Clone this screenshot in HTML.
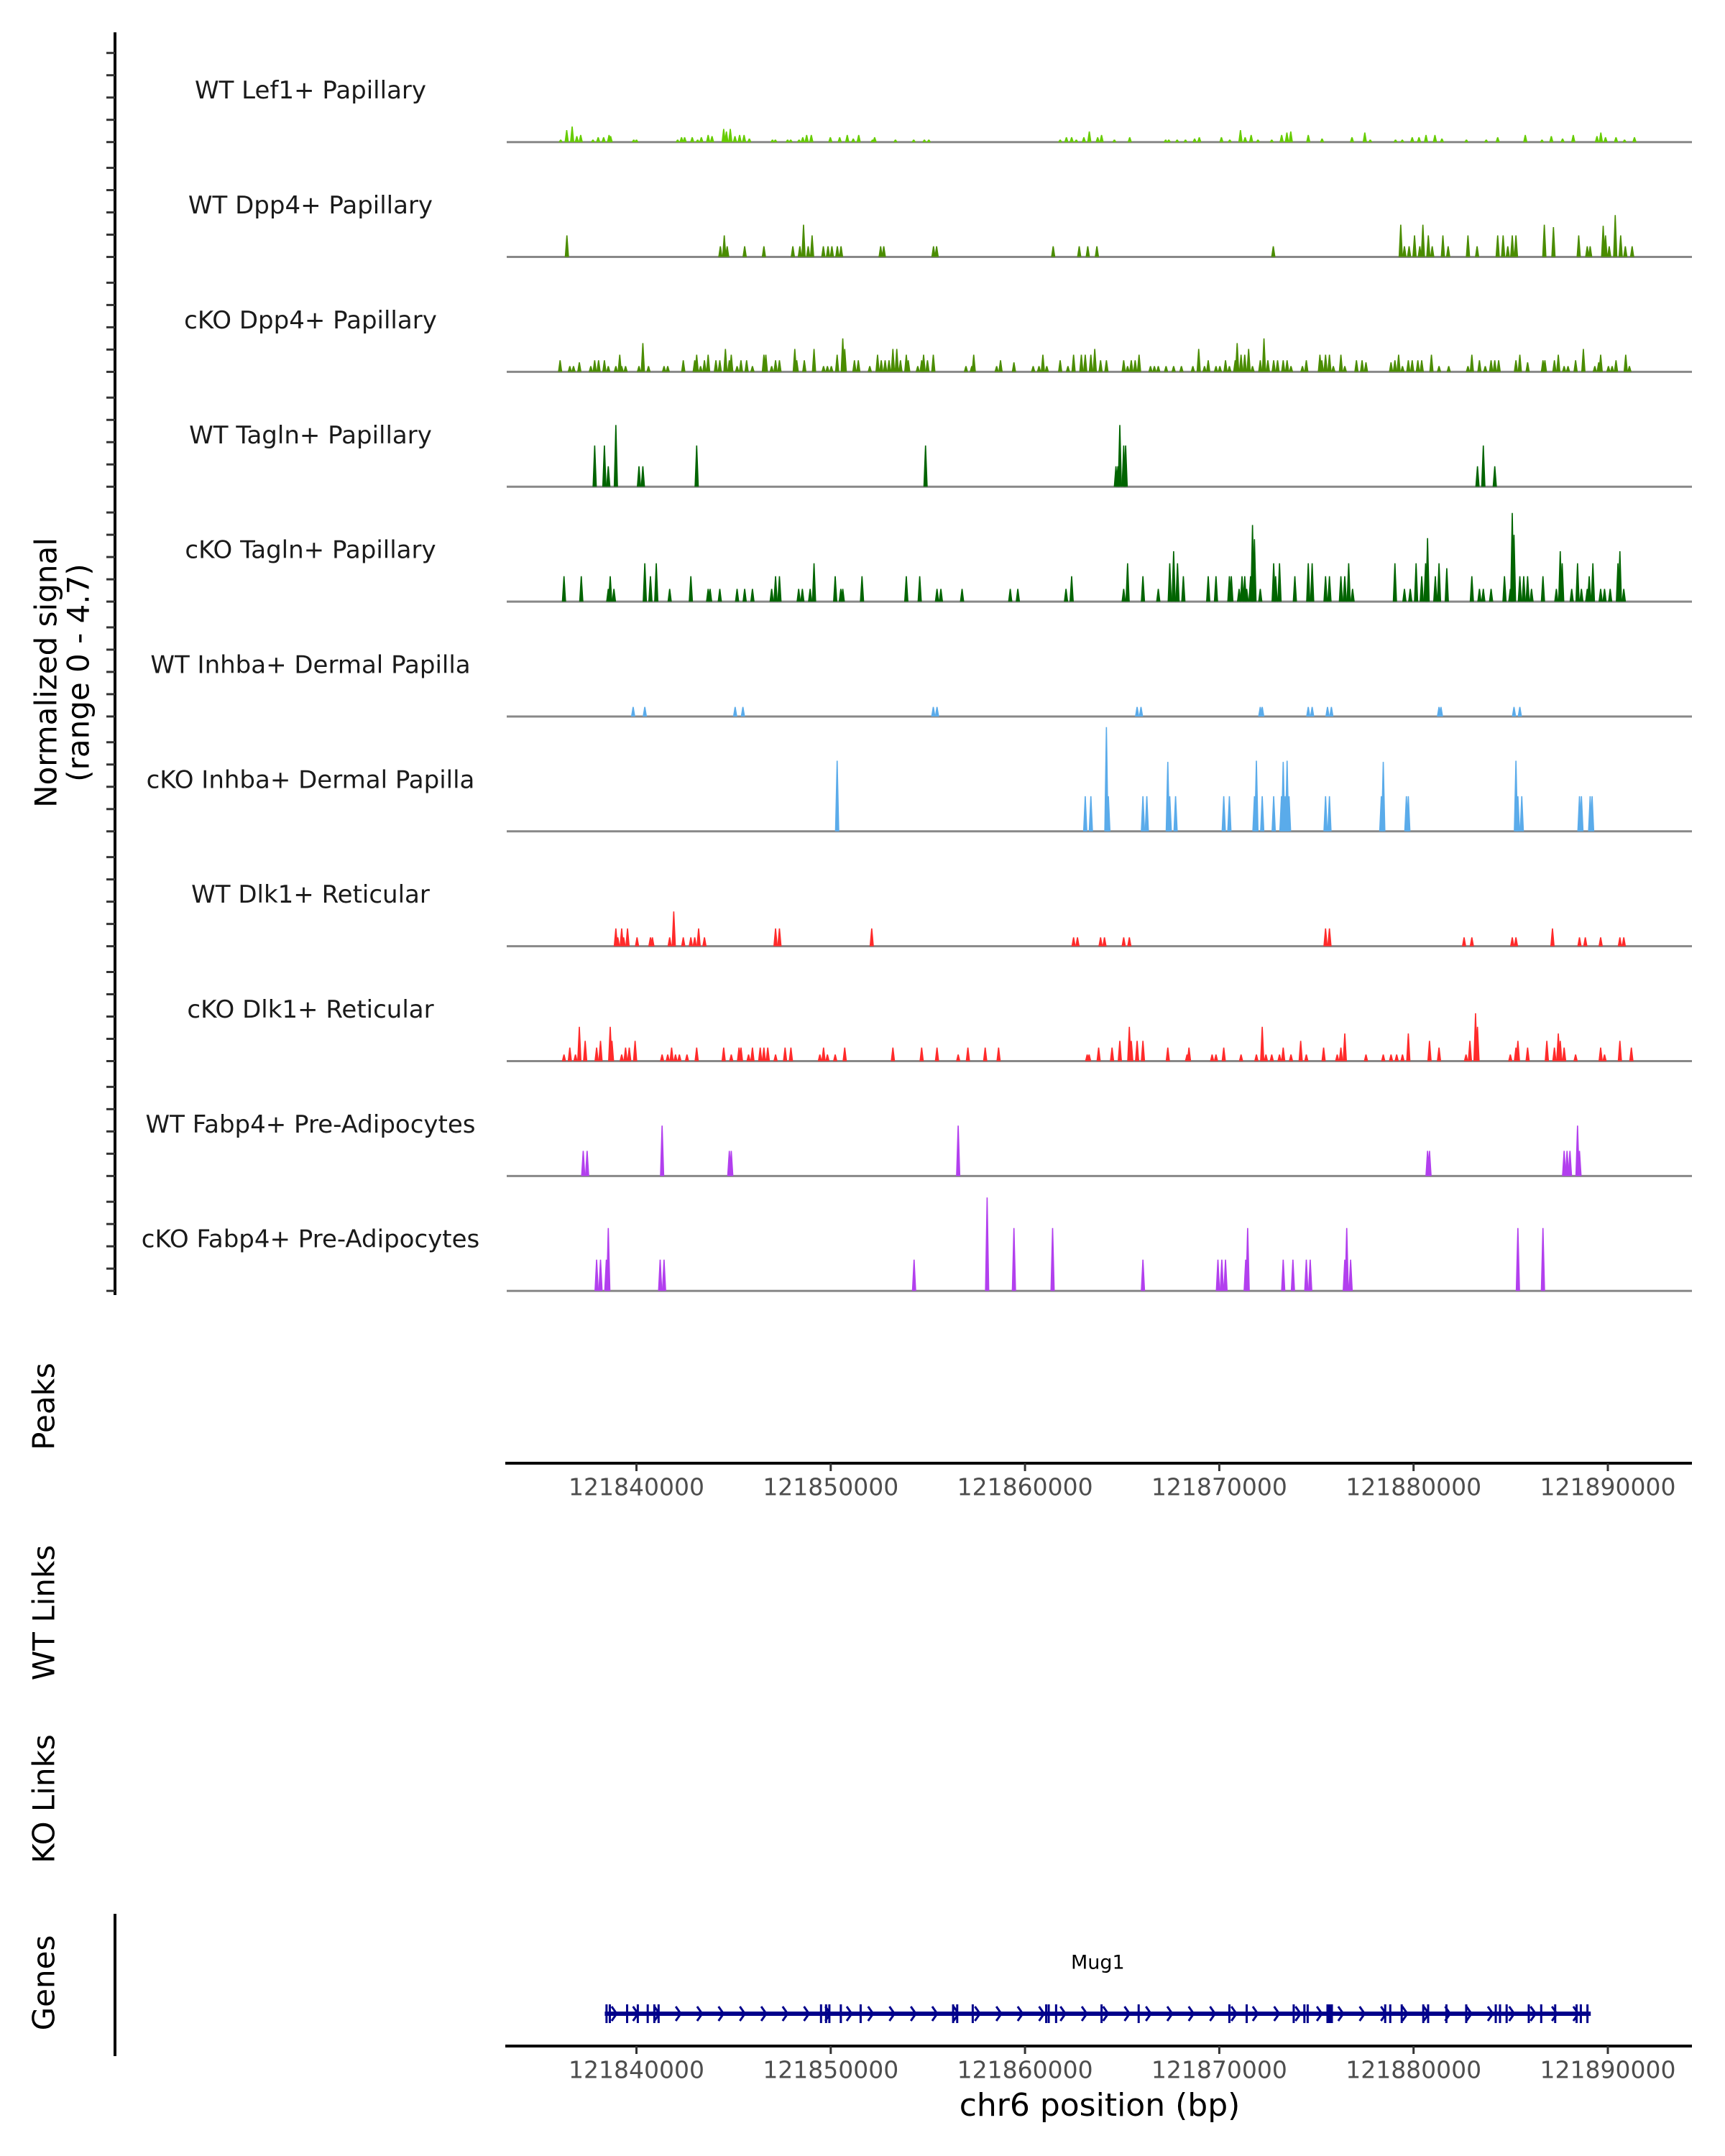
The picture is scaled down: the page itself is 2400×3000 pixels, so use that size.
<!DOCTYPE html>
<html><head><meta charset="utf-8"><style>
html,body{margin:0;padding:0;background:#fff;}
svg{display:block;font-family:"DejaVu Sans","Liberation Sans",sans-serif;}
</style></head><body>
<svg id="chart" width="2400" height="3000" viewBox="0 0 2400 3000" xmlns="http://www.w3.org/2000/svg">
<g id="tracks"></g>
<g id="leftaxis"></g>
<text transform="translate(67,936) rotate(-90)" text-anchor="middle" dominant-baseline="middle" font-size="42" fill="#000">Normalized signal</text>
<text transform="translate(112,936) rotate(-90)" text-anchor="middle" dominant-baseline="middle" font-size="42" fill="#000">(range 0 - 4.7)</text>
<text transform="translate(64,1957) rotate(-90)" text-anchor="middle" dominant-baseline="middle" font-size="42" fill="#000">Peaks</text>
<text transform="translate(64,2244) rotate(-90)" text-anchor="middle" dominant-baseline="middle" font-size="42" fill="#000">WT Links</text>
<text transform="translate(64,2503) rotate(-90)" text-anchor="middle" dominant-baseline="middle" font-size="42" fill="#000">KO Links</text>
<text transform="translate(64,2759) rotate(-90)" text-anchor="middle" dominant-baseline="middle" font-size="42" fill="#000">Genes</text>
<line x1="160" y1="2663" x2="160" y2="2861" stroke="#000" stroke-width="4"/>
<g id="peaksaxis"></g>
<g id="genes"></g>
<g id="genesaxis"></g>
<text x="1530" y="2932" text-anchor="middle" dominant-baseline="middle" font-size="44" fill="#000">chr6 position (bp)</text>
</svg>
<script>
// positions in kb offset from 121800000 bp; heights in normalized signal units
const xTicks = [121840000,121850000,121860000,121870000,121880000,121890000];
const trackNames = ["WT Lef1+ Papillary","WT Dpp4+ Papillary","cKO Dpp4+ Papillary","WT Tagln+ Papillary","cKO Tagln+ Papillary","WT Inhba+ Dermal Papilla","cKO Inhba+ Dermal Papilla","WT Dlk1+ Reticular","cKO Dlk1+ Reticular","WT Fabp4+ Pre-Adipocytes","cKO Fabp4+ Pre-Adipocytes"];
const trackColors = ["#66cc00","#4a8c00","#4a8c00","#006400","#006400","#5aabea","#5aabea","#ff2a2a","#ff2a2a","#b23fee","#b23fee"];
const pos0 = [36.1,36.41,36.69,36.93,37.13,37.76,38.03,38.31,38.59,38.67,39.86,40.0,42.12,42.32,42.48,42.87,43.15,43.34,43.69,43.89,44.49,44.63,44.83,45.07,45.31,45.54,45.81,47.0,47.15,47.78,47.94,48.37,48.56,48.76,49.0,49.98,50.46,50.85,51.16,51.44,52.15,52.26,53.33,54.27,54.82,55.05,61.81,62.13,62.4,62.64,63.03,63.31,63.74,63.94,64.6,65.39,67.24,67.4,67.83,68.26,68.73,68.97,70.11,70.54,71.09,71.33,71.64,71.99,72.7,73.21,73.48,73.68,74.58,75.29,76.83,77.49,77.77,79.07,79.42,79.93,80.28,80.64,81.1,81.46,82.72,83.74,84.33,85.75,86.61,87.09,87.67,88.22,89.44,89.64,89.88,90.42,90.86,91.37];
const val0 = [.11,.54,.7,.27,.32,.11,.22,.22,.32,.27,.11,.11,.11,.22,.22,.22,.11,.22,.32,.27,.59,.48,.59,.27,.32,.32,.16,.11,.11,.11,.11,.11,.22,.32,.32,.22,.22,.32,.16,.32,.11,.22,.11,.11,.11,.11,.11,.22,.22,.11,.22,.48,.22,.32,.11,.22,.11,.11,.11,.11,.16,.22,.22,.11,.54,.22,.32,.11,.11,.32,.43,.48,.32,.16,.22,.43,.11,.11,.11,.22,.22,.32,.32,.16,.11,.11,.22,.32,.11,.27,.16,.32,.27,.43,.22,.22,.11,.22];
const pos1 = [36.42,44.32,44.52,44.67,45.57,46.56,48.05,48.41,48.6,48.84,49.04,49.62,49.86,50.06,50.34,50.53,52.57,52.73,55.29,55.45,61.45,62.79,63.23,63.7,72.78,79.34,79.53,79.77,80.05,80.32,80.48,80.76,80.96,81.51,81.78,82.8,83.27,84.33,84.61,84.85,85.08,85.27,86.73,87.2,88.5,88.94,89.09,89.76,89.88,90.07,90.38,90.66,90.9,91.25];
const val1 = [.97,.48,.97,.48,.48,.48,.48,.48,1.45,.48,.97,.48,.48,.48,.48,.48,.48,.48,.48,.48,.48,.48,.48,.48,.48,1.45,.48,.48,.97,.48,1.45,.97,.48,.97,.48,.97,.48,.97,.97,.48,.97,.97,1.45,1.34,.97,.48,.48,1.4,.97,.48,1.88,.97,.48,.48];
const pos2 = [36.07,36.57,36.76,37.06,37.65,37.85,38.05,38.35,38.55,38.94,39.14,39.24,39.44,40.13,40.33,40.62,41.42,41.61,42.41,43.0,43.1,43.3,43.5,43.69,44.09,44.29,44.58,44.78,44.88,45.18,45.38,45.67,45.97,46.56,46.66,46.96,47.16,47.36,48.15,48.25,48.64,49.14,49.63,49.83,50.03,50.33,50.62,50.72,51.22,51.42,52.01,52.41,52.6,52.8,53.0,53.2,53.4,53.59,53.89,53.99,54.48,54.68,54.78,54.98,55.28,56.96,57.26,57.36,58.54,58.74,59.43,60.42,60.72,60.92,61.12,61.81,62.21,62.5,62.9,63.1,63.39,63.59,63.89,64.19,65.08,65.28,65.47,65.67,65.87,66.46,66.66,66.86,67.26,67.65,68.05,68.64,68.94,69.24,69.43,69.83,70.03,70.32,70.52,70.82,70.92,71.12,71.31,71.51,71.71,72.11,72.3,72.5,72.8,73.0,73.29,73.49,73.69,74.28,74.48,75.18,75.28,75.47,75.67,75.87,76.26,76.46,77.06,77.35,77.55,78.84,79.04,79.23,79.43,79.73,79.93,80.22,80.42,80.92,81.31,81.81,82.8,83.0,83.39,83.69,83.99,84.18,84.38,85.27,85.47,85.87,86.66,86.76,87.25,87.45,87.75,87.95,88.34,88.74,89.33,89.53,89.63,90.03,90.22,90.42,90.92,91.11];
const val2 = [.52,.26,.26,.43,.26,.52,.52,.52,.26,.26,.77,.26,.26,.26,1.29,.26,.26,.26,.52,.52,.77,.26,.52,.77,.52,.52,1.03,.52,.77,.26,.52,.52,.26,.77,.77,.26,.52,.52,1.03,.52,.52,1.03,.26,.26,.26,.77,1.5,1.03,.52,.52,.26,.77,.52,.52,.52,1.03,1.03,.52,.77,.52,.26,.52,.77,.52,.77,.26,.26,.77,.26,.52,.43,.26,.26,.77,.26,.52,.26,.77,.77,.77,.77,1.03,.52,.52,.52,.26,.52,.52,.77,.26,.26,.26,.26,.26,.26,.26,1.03,.26,.52,.26,.26,.52,.26,.52,1.29,.77,.77,1.03,.26,.52,1.5,.52,.52,.52,.52,.52,.26,.26,.52,.77,.52,.77,.77,.26,.77,.26,.52,.52,.43,.43,.52,.77,.26,.52,.52,.52,.52,.77,.26,.26,.26,.77,.52,.26,.52,.52,.52,.52,.77,.43,.52,.52,.52,.77,.26,.26,.52,1.03,.26,.43,.77,.26,.26,.52,.77,.26];
const pos3 = [37.85,38.35,38.55,38.94,40.13,40.33,43.1,54.88,64.68,64.78,64.88,65.08,65.18,83.29,83.59,84.18];
const val3 = [1.85,1.85,.92,2.77,.92,.92,1.85,1.85,.92,.92,2.77,1.85,1.85,.92,1.85,.92];
const pos4 = [36.27,37.16,38.55,38.65,38.84,40.43,40.72,41.02,41.71,42.8,43.69,43.79,44.29,45.18,45.57,45.97,46.96,47.16,47.36,48.35,48.54,48.94,49.14,50.23,50.52,50.62,51.61,53.89,54.58,55.47,55.67,56.76,59.24,59.63,62.11,62.4,65.08,65.28,66.07,66.86,67.45,67.65,67.85,68.15,69.43,69.83,70.52,70.62,71.02,71.17,71.31,71.41,71.61,71.71,71.81,72.11,72.8,72.9,73.1,73.89,74.58,74.78,75.47,75.67,76.26,76.46,76.66,76.86,79.04,79.53,79.83,80.13,80.42,80.62,80.72,81.12,81.31,81.71,83.0,83.39,83.59,83.99,84.68,84.98,85.08,85.17,85.47,85.67,85.87,86.07,86.66,87.35,87.55,87.65,88.14,88.44,88.64,88.94,89.04,89.23,89.63,89.83,90.12,90.52,90.62,90.82];
const val4 = [1.14,1.14,.57,1.14,.57,1.72,1.14,1.72,.57,1.14,.57,.57,.57,.57,.57,.57,.57,1.14,1.14,.57,.57,.57,1.72,1.14,.57,.57,1.14,1.14,1.14,.57,.57,.57,.57,.57,.57,1.14,.57,1.72,1.14,.57,1.72,2.26,1.72,1.14,1.14,1.14,1.14,1.14,.57,1.14,1.14,.57,1.14,3.44,2.8,.57,1.72,1.14,1.72,1.14,1.72,1.72,1.14,1.14,1.14,1.14,1.72,.57,1.72,.57,.57,1.72,1.14,1.72,2.85,1.14,1.72,1.5,1.14,.57,.57,.57,1.14,.57,3.98,3.0,1.14,1.14,1.14,.57,1.14,.57,2.26,1.72,.57,1.72,.57,.57,1.14,1.72,.57,.57,.57,1.72,2.26,.57];
const pos5 = [39.83,40.43,45.08,45.48,55.28,55.47,65.77,65.97,72.11,72.21,74.58,74.78,75.57,75.77,81.31,81.41,85.17,85.47];
const val5 = [.43,.43,.43,.43,.43,.43,.43,.43,.43,.43,.43,.43,.43,.43,.43,.43,.43,.43];
const pos6 = [50.33,63.1,63.39,64.19,64.29,66.07,66.27,67.35,67.45,67.75,70.23,70.52,71.81,71.91,72.21,72.8,73.2,73.29,73.39,73.49,73.59,75.47,75.67,78.34,78.44,79.63,79.73,85.27,85.37,85.57,88.54,88.64,89.09,89.19];
const val6 = [3.17,1.58,1.58,4.68,1.58,1.58,1.58,3.12,1.58,1.58,1.58,1.58,1.58,3.17,1.58,1.58,1.58,3.12,1.58,3.17,1.58,1.58,1.58,1.58,3.12,1.58,1.58,3.17,1.58,1.58,1.58,1.58,1.58,1.58];
const pos7 = [38.94,39.04,39.24,39.34,39.54,40.03,40.72,40.82,41.71,41.92,42.41,42.8,43.0,43.2,43.5,47.16,47.36,52.11,62.5,62.7,63.89,64.09,65.08,65.37,75.47,75.67,82.6,83.0,85.08,85.27,87.15,88.54,88.84,89.63,90.62,90.82];
const val7 = [.8,.4,.8,.4,.8,.4,.4,.4,.4,1.56,.4,.4,.4,.8,.4,.8,.8,.8,.4,.4,.4,.4,.4,.4,.8,.8,.4,.4,.4,.4,.8,.4,.4,.4,.4,.4];
const pos8 = [36.27,36.57,36.86,37.06,37.36,37.95,38.15,38.65,38.74,39.24,39.44,39.63,39.93,41.32,41.61,41.81,42.01,42.21,42.6,43.1,44.49,44.88,45.28,45.38,45.77,45.97,46.37,46.56,46.76,47.16,47.65,47.95,49.44,49.63,49.83,50.23,50.72,53.2,54.68,55.47,56.56,57.06,57.95,58.64,63.2,63.3,63.79,64.48,64.88,65.37,65.47,65.77,66.07,67.35,68.34,68.44,69.63,69.83,70.23,71.12,71.91,72.21,72.4,72.7,73.1,73.29,73.69,74.19,74.48,75.37,76.07,76.26,76.46,77.55,78.44,78.84,79.13,79.43,79.73,80.82,81.31,82.7,82.9,83.19,83.29,84.98,85.27,85.37,85.87,86.86,87.25,87.45,87.55,87.75,88.34,89.63,89.83,90.62,91.21];
const val8 = [.3,.61,.3,1.54,.91,.61,.91,1.54,.91,.3,.61,.61,.91,.3,.3,.61,.3,.3,.3,.61,.61,.3,.61,.61,.3,.61,.61,.61,.61,.3,.61,.61,.3,.61,.3,.3,.61,.61,.61,.61,.3,.61,.61,.61,.3,.3,.61,.61,.91,1.54,.91,.91,.91,.61,.3,.61,.3,.3,.61,.3,.3,1.54,.3,.3,.3,.61,.3,.91,.3,.61,.3,.61,1.24,.3,.3,.3,.3,.3,1.24,.91,.61,.3,.91,2.15,1.54,.3,.61,.91,.61,.91,.61,1.24,.91,.61,.3,.61,.3,.91,.61];
const pos9 = [37.26,37.46,41.32,44.78,44.88,56.56,80.72,80.82,87.75,87.9,88.05,88.44,88.54];
const val9 = [1.13,1.13,2.26,1.13,1.13,2.26,1.13,1.13,1.13,1.13,1.13,2.26,1.13];
const pos10 = [37.95,38.15,38.45,38.55,41.22,41.42,54.29,58.05,59.43,61.42,66.07,69.93,70.13,70.32,71.36,71.46,73.29,73.79,74.48,74.68,76.46,76.56,76.76,85.37,86.66];
const val10 = [1.4,1.4,1.4,2.82,1.4,1.4,1.4,4.19,2.82,2.82,1.4,1.4,1.4,1.4,1.4,2.82,1.4,1.4,1.4,1.4,1.4,2.82,1.4,2.82,2.82];
const trackPos = [pos0,pos1,pos2,pos3,pos4,pos5,pos6,pos7,pos8,pos9,pos10];
const trackVal = [val0,val1,val2,val3,val4,val5,val6,val7,val8,val9,val10];
const geneName = "Mug1";
const geneStart = 38.37, geneEnd = 89.12;
const exons = [38.46,38.63,39.52,40.07,40.58,40.92,41.14,49.5,49.76,49.93,50.52,51.54,56.3,56.51,57.31,61.09,61.22,61.6,63.94,65.85,70.52,71.41,73.83,74.38,74.55,75.57,75.74,78.54,78.8,79.39,80.5,80.75,81.69,82.71,84.23,84.45,84.79,85.93,86.57,87.29,88.39,88.61,88.95];

const NS = "http://www.w3.org/2000/svg";
function xs(kb){ return 885.5 + (kb - 40) * 27.03; }
function xbp(bp){ return xs((bp - 121800000) / 1000); }
const UNIT = 31;
const X0 = 703, X1 = 2354;
function base(i){ return 197.7 + 159.85 * i; }
function mk(tag, attrs, parent){ const e = document.createElementNS(NS, tag); for (const k in attrs) e.setAttribute(k, attrs[k]); parent.appendChild(e); return e; }

const tracks = document.getElementById('tracks');
const leftaxis = document.getElementById('leftaxis');
mk('line', {x1:160,y1:45,x2:160,y2:1802,stroke:'#000','stroke-width':4}, leftaxis);
for (let i = 0; i < trackNames.length; i++) {
  const b = base(i);
  const g = mk('g', {}, tracks);
  
  
  const lab = mk('text', {x:432, y:b - 70, 'text-anchor':'middle', 'dominant-baseline':'middle', 'font-size':34, fill:'#1a1a1a'}, g);
  lab.textContent = trackNames[i];
  
  
  const bl = mk('line', {x1:X0+2, y1:b, x2:X1, y2:b, stroke:'#888', 'stroke-width':3}, g);
  
  
  const P = trackPos[i], V = trackVal[i];
  for (let j = 0; j < P.length; j++) {
    const x = xs(P[j]), h = V[j] * UNIT;
    const p = mk('polygon', {points:(x-3)+','+b+' '+(x-0.8)+','+(b-h)+' '+(x+0.8)+','+(b-h)+' '+(x+3)+','+b, fill:trackColors[i]}, g);
    
    
  }
  for (let k = 0; k < 5; k++) {
    const t = mk('line', {x1:148, y1:b - k*UNIT, x2:160, y2:b - k*UNIT, stroke:'#333', 'stroke-width':3}, leftaxis);
    
    
  }
}

function xAxis(gid, y){
  const g = document.getElementById(gid);
  mk('line', {x1:X0, y1:y, x2:X1, y2:y, stroke:'#000', 'stroke-width':4}, g);
  for (const t of xTicks) {
    const x = xbp(t);
    const tk = mk('line', {x1:x, y1:y, x2:x, y2:y+11, stroke:'#333', 'stroke-width':3}, g);
    
    
    const tl = mk('text', {x:x, y:y+35, 'text-anchor':'middle', 'dominant-baseline':'middle', 'font-size':33, fill:'#4d4d4d'}, g);
    tl.textContent = t;
    
    
  }
}
xAxis('peaksaxis', 2036);
xAxis('genesaxis', 2847);

const gg = document.getElementById('genes');
const gy = 2802;
const gl = mk('line', {x1:xs(geneStart), y1:gy, x2:xs(geneEnd), y2:gy, stroke:'#00008b', 'stroke-width':6}, gg);


for (let kb = geneStart + 0.5; kb < geneEnd - 0.2; kb += 1.1) {
  const x = xs(kb);
  const c = mk('polyline', {points:(x-4)+','+(gy-10)+' '+(x+3)+','+gy+' '+(x-4)+','+(gy+10), fill:'none', stroke:'#00008b', 'stroke-width':3}, gg);
  
  
}
for (const e of exons) {
  const x = xs(e);
  const r = mk('rect', {x:x-1.5, y:gy-13, width:3, height:26, fill:'#00008b'}, gg);
  
  
}
const big = mk('rect', {x:xs(75.55), y:gy-13, width:xs(75.85)-xs(75.55), height:26, fill:'#00008b'}, gg);


const gn = mk('text', {x:xs((geneStart+geneEnd)/2), y:2732, 'text-anchor':'middle', 'dominant-baseline':'middle', 'font-size':27, fill:'#000'}, gg);
gn.textContent = geneName;


</script>
</body></html>
